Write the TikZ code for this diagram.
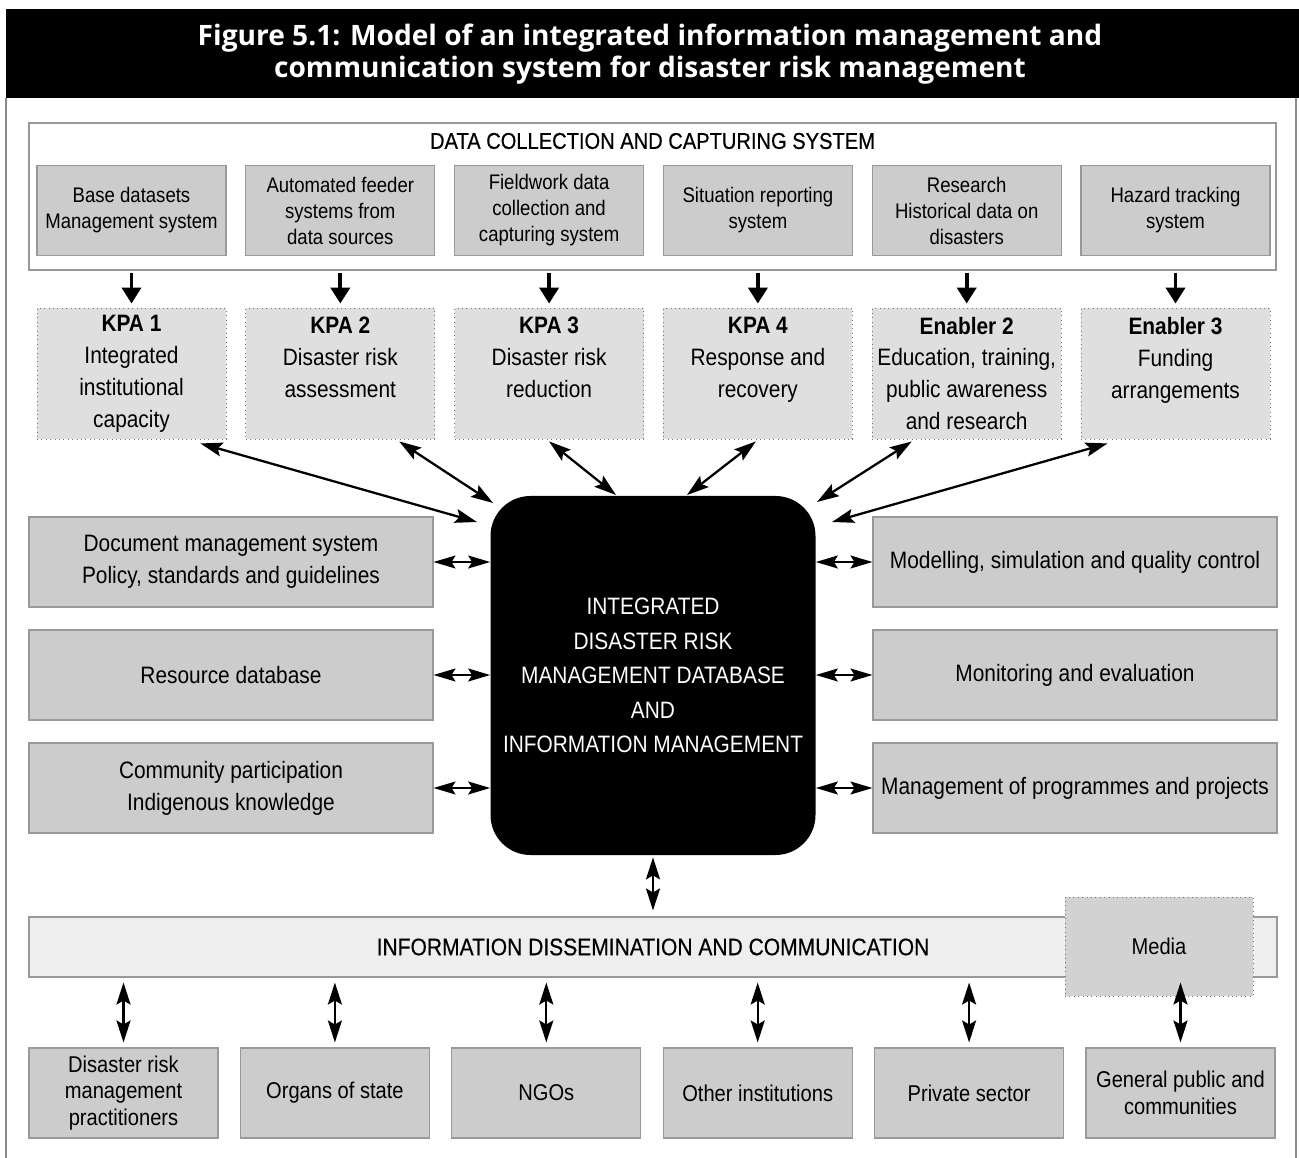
\documentclass[tikz,border=0pt]{standalone}
\usepackage{fontspec}
\setmainfont{Liberation Sans}[FakeStretch=0.88]
\newfontfamily\headfont{Open Sans}
\usetikzlibrary{arrows.meta}

\begin{document}
\begin{tikzpicture}[x=0.2mm,y=-0.2mm,
  src/.style = {draw=gray!80, fill=gray!40, line width=0.6pt, inner sep=0pt, align=center,
                minimum width=37.8mm, minimum height=18mm, font=\fontsize{12}{14.8}\selectfont},
  kpa/.style = {draw=gray!110, dotted, fill=gray!25, line width=0.5pt, inner sep=0pt, align=center,
                minimum width=37.8mm, minimum height=26.2mm, font=\fontsize{13.5}{18.2}\selectfont},
  side/.style = {draw=gray!80, fill=gray!40, line width=0.6pt, inner sep=0pt, align=center,
                minimum width=80.8mm, minimum height=18mm, font=\fontsize{13.5}{18.2}\selectfont},
  user/.style = {draw=gray!80, fill=gray!40, line width=0.6pt, inner sep=0pt, align=center,
                minimum width=37.8mm, minimum height=18mm, font=\fontsize{13}{15.3}\selectfont},
  hub/.style = {fill=black, rounded corners=8mm, text=white, align=center,
                minimum width=65mm, minimum height=71.8mm, font=\fontsize{13.5}{19.6}\selectfont},
  head/.style = {font=\fontsize{13.6}{15}\selectfont\addfontfeature{FakeBold=0.5}},
  feed/.style = {-{Triangle[length=3.2mm,width=3.8mm]}, line width=2.2pt},
  dbl/.style = {{Stealth[length=4.4mm,width=2.8mm,inset=0.8mm]}-{Stealth[length=4.4mm,width=2.8mm,inset=0.8mm]}, line width=1.3pt},
  lnk/.style = {{Stealth[length=4.4mm,width=2.6mm,inset=0.8mm]}-{Stealth[length=4.4mm,width=2.6mm,inset=0.8mm]}, line width=1pt}]

\useasboundingbox (0,0) rectangle (1299,1158);

% frame and title
\fill (6,9) rectangle (1299,98);
\draw[gray!90, line width=1pt] (6,98) -- (6,1158) (1296,98) -- (1296,1158);
\node[text=white, align=center, font=\headfont\bfseries\fontsize{16}{18.1}\selectfont] (title) at (650,54)
  {Figure 5.1: Model of an integrated information management and\\communication system for disaster risk management};

% data collection
\node[draw=gray!80, line width=0.6pt, minimum width=249.4mm, minimum height=29.4mm, inner sep=0pt] (data) at (652.5,196.5) {};
\node[head, font=\fontsize{13}{15}\selectfont\addfontfeature{FakeBold=0.5}] (datahead) at (652.5,141) {DATA COLLECTION AND CAPTURING SYSTEM};

\node[src] (top1) at (131.5,210.5) {Base datasets\\Management system};
\node[src] (top2) at (340.3,210.5) {Automated feeder\\systems from\\data sources};
\node[src] (top3) at (549.1,210.5) {Fieldwork data\\collection and\\capturing system};
\node[src] (top4) at (757.9,210.5) {Situation reporting\\system};
\node[src] (top5) at (966.7,210.5) {Research\\Historical data on\\disasters};
\node[src] (top6) at (1175.5,210.5) {Hazard tracking\\system};

% key performance areas
\node[kpa] (kpa1) at (131.5,373.5) {\textbf{KPA 1}\\Integrated\\institutional\\capacity};
\node[kpa] (kpa2) at (340.3,373.5) {\textbf{KPA 2}\\Disaster risk\\assessment\\~};
\node[kpa] (kpa3) at (549.1,373.5) {\textbf{KPA 3}\\Disaster risk\\reduction\\~};
\node[kpa] (kpa4) at (757.9,373.5) {\textbf{KPA 4}\\Response and\\recovery\\~};
\node[kpa] (kpa5) at (966.7,373.5) {\textbf{Enabler 2}\\Education, training,\\public awareness\\and research};
\node[kpa] (kpa6) at (1175.5,373.5) {\textbf{Enabler 3}\\Funding\\arrangements\\~};

\foreach \i in {1,...,6}
  \draw[feed, shorten <=0.4mm, shorten >=0.8mm] (data.south -| kpa\i) -- (kpa\i);

% central database
\node[hub] (db) at (653,675.5) {INTEGRATED\\DISASTER RISK\\MANAGEMENT DATABASE\\AND\\INFORMATION MANAGEMENT};

\coordinate (h1) at (477,522);
\coordinate (h2) at (493,503);
\coordinate (h3) at (616,495);
\coordinate (h4) at (687,495);
\coordinate (h5) at (817,502);
\coordinate (h6) at (832,522);

\draw[dbl] ([shift={(-26,4)}]kpa1.south east) -- (h1);
\draw[dbl] ([shift={(-36,2)}]kpa2.south east) -- (h2);
\draw[dbl] ([shift={(0,2)}]kpa3.south) -- (h3);
\draw[dbl] ([shift={(-2,2)}]kpa4.south) -- (h4);
\draw[dbl] ([shift={(40,2)}]kpa5.south west) -- (h5);
\draw[dbl] ([shift={(27,4)}]kpa6.south west) -- (h6);

% side boxes
\node[side] (left1) at (231,562) {Document management system\\Policy, standards and guidelines};
\node[side] (left2) at (231,675) {Resource database};
\node[side] (left3) at (231,788) {Community participation\\Indigenous knowledge};
\node[side] (right1) at (1075,562) {Modelling, simulation and quality control};
\node[side] (right2) at (1075,675) {Monitoring and evaluation};
\node[side] (right3) at (1075,788) {Management of programmes and projects};

\foreach \i in {1,2,3} {
  \draw[lnk] (left\i.east) -- (left\i.east -| db.west);
  \draw[lnk] (right\i.west -| db.east) -- (right\i.west);
}

% dissemination
\node[head, draw=gray!80, fill=gray!13, line width=0.6pt, minimum width=249.6mm, minimum height=12mm, inner sep=0pt]
  (bar) at (653,947) {INFORMATION DISSEMINATION AND COMMUNICATION};
\node[draw=gray!110, dotted, fill=gray!35, line width=0.5pt, minimum width=37.6mm, minimum height=19.8mm, inner sep=0pt,
  font=\fontsize{13}{15}\selectfont] (media) at (1159,946.5) {Media};

\draw[dbl, shorten <=0.4mm, shorten >=1.2mm] (db.south) -- (bar.north -| db.south);

\node[user] (user1) at (123.5,1093) {Disaster risk\\management\\practitioners};
\node[user] (user2) at (334.9,1093) {Organs of state};
\node[user] (user3) at (546.3,1093) {NGOs};
\node[user] (user4) at (757.7,1093) {Other institutions};
\node[user] (user5) at (969.1,1093) {Private sector};
\node[user] (user6) at (1180.5,1093) {General public and\\communities};

\foreach \i in {1,...,6}
  \draw[dbl, shorten <=1mm, shorten >=1mm] (bar.south -| user\i) -- (user\i.north);

\end{tikzpicture}
\end{document}
